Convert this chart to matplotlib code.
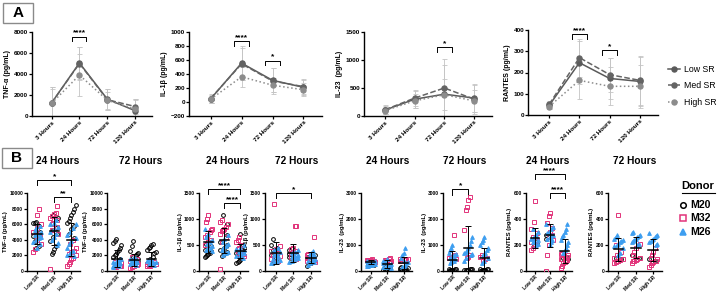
import numpy as np
import matplotlib
matplotlib.use("Agg")
import matplotlib.pyplot as plt
from matplotlib.lines import Line2D
from matplotlib.patches import Rectangle

plt.rcParams["font.family"] = ["Liberation Sans", "DejaVu Sans"]
plt.rcParams["font.weight"] = "bold"
plt.rcParams["axes.labelweight"] = "bold"

W, H = 720, 296

timepoints = ["3 Hours", "24 Hours", "72 Hours", "120 Hours"]
sr_groups = ["Low SR", "Med SR", "High SR"]
sr_labels = ["Low SR", "Med SR", "High SR"]
donors = ["M20", "M32", "M26"]

# ---- panel A: mean / sd per time point, rows = Low, Med, High SR
tnf_mean = [[1240, 5050, 1600, 500], [1240, 5000, 1550, 900], [1200, 3900, 1500, 650]]
tnf_sd = [[1500, 1500, 1000, 1100], [1500, 1600, 1000, 700], [1400, 2000, 800, 900]]
il1b_mean = [[45, 555, 310, 210], [50, 545, 300, 220], [40, 360, 240, 175]]
il1b_sd = [[60, 240, 170, 110], [60, 230, 180, 110], [50, 140, 100, 90]]
il23_mean = [[105, 300, 390, 320], [110, 320, 500, 300], [95, 270, 380, 270]]
il23_sd = [[70, 150, 520, 250], [80, 140, 520, 260], [60, 120, 280, 200]]
rantes_mean = [[45, 246, 172, 158], [50, 270, 190, 163], [40, 163, 135, 135]]
rantes_sd = [[15, 100, 95, 115], [15, 90, 80, 115], [12, 90, 90, 100]]

# ---- panel B: individual values, [Low, Med, High] per donor
tnf24_m20 = [[6300, 6200, 6100, 5800, 5000, 4800, 4500, 3800, 3200, 3000],
             [7200, 6800, 5500, 5200, 4800, 4400, 3800, 3200, 2800, 2500, 2200],
             [8400, 8000, 7600, 7200, 6800, 6400, 6100, 5800, 5400, 4800, 4200]]
tnf24_m32 = [[8000, 7200, 6000, 5500, 5000, 4700, 4400, 4000, 3500, 2800, 2400],
             [8300, 7500, 7300, 7000, 6800, 6500, 6200, 6000, 5600, 5200, 4800, 300],
             [4000, 3500, 3000, 2600, 2400, 2200, 2000, 1700, 1500, 1200, 900, 600]]
tnf24_m26 = [[5800, 5500, 5200, 5000, 4800, 4600, 4400, 4200, 4000, 3700, 3400, 3000],
             [6500, 6200, 6000, 5700, 5400, 5000, 4700, 4400, 4000, 3600, 3300],
             [6000, 5500, 5000, 4600, 4200, 3800, 3400, 3000, 2600, 2300, 2100, 1900]]

tnf72_m20 = [[4100, 3800, 3600, 3300, 3000, 2700, 2500, 2200, 2000, 1800, 1500],
             [3800, 3200, 2600, 2300, 2200, 2000, 1800, 1600, 1400, 1200],
             [3500, 3300, 3100, 2900, 2700, 2500, 2300, 1800, 1500]]
tnf72_m32 = [[1200, 1000, 900, 800, 700, 650, 600, 550, 500],
             [1800, 1500, 1300, 1100, 1000, 900, 800, 700, 600, 500, 400],
             [1200, 1000, 900, 850, 800, 750, 700, 650, 600]]
tnf72_m26 = [[1600, 1400, 1300, 1200, 1100, 1000, 900, 800, 700, 600, 500],
             [1800, 1600, 1500, 1400, 1300, 1200, 1100, 1000, 900, 800],
             [1500, 1400, 1300, 1200, 1100, 1000, 900, 800]]

il1b24_m20 = [[520, 480, 430, 400, 380, 350, 320, 300, 280, 260],
              [1080, 900, 700, 550, 500, 450, 400, 360, 320, 280],
              [720, 500, 400, 350, 300, 250, 220, 200, 180, 150]]
il1b24_m32 = [[1070, 1000, 950, 800, 780, 750, 700, 650, 600, 550, 500],
              [980, 950, 900, 850, 800, 780, 760, 720, 650, 550, 40],
              [650, 600, 550, 500, 450, 420, 380, 350, 320, 300, 280]]
il1b24_m26 = [[800, 720, 650, 600, 560, 520, 480, 450, 430, 400, 380],
              [700, 620, 560, 520, 480, 440, 400, 370, 340, 300],
              [500, 450, 420, 400, 380, 360, 340, 320, 300, 280, 250]]

il1b72_m20 = [[620, 500, 450, 400, 350, 300, 250, 200, 160],
              [450, 400, 350, 320, 290, 260, 230, 200],
              [300, 260, 220, 200, 180, 150, 100]]
il1b72_m32 = [[1290, 480, 420, 380, 340, 300, 280, 250, 230, 200],
              [870, 860, 450, 420, 380, 340, 300, 260, 230],
              [660, 320, 300, 280, 250, 220, 200, 180]]
il1b72_m26 = [[450, 400, 360, 330, 300, 280, 260, 240, 220, 200, 180, 150],
              [400, 370, 340, 310, 290, 270, 250, 230, 200, 170],
              [380, 340, 320, 300, 280, 260, 240, 220, 200, 180, 150, 120]]

il23_24_m20 = [[380, 350, 300, 250, 220],
               [200, 150, 100, 80, 60, 50, 40, 30],
               [150, 120, 100, 80, 60, 50, 40, 30, 20]]
il23_24_m32 = [[450, 440, 430, 420, 410, 400, 390, 380, 370, 360],
               [500, 460, 440, 420, 400, 390, 380, 370, 350],
               [480, 450, 430, 410, 400, 390, 380]]
il23_24_m26 = [[400, 370, 340, 320, 300, 280, 260, 240, 220, 200, 180],
               [450, 400, 350, 300, 260, 230, 200, 170, 140, 110],
               [880, 700, 600, 500, 400, 350, 300, 250, 200, 150]]

il23_72_m20 = [[80, 70, 60, 50, 40, 30, 20, 10],
               [80, 70, 60, 50, 40, 30, 20],
               [80, 70, 60, 50, 40, 30, 20, 10]]
il23_72_m32 = [[1380, 600, 550, 500, 450, 400],
               [2830, 2750, 2450, 2350, 1570, 600, 550, 500],
               [600, 550, 500, 450, 400]]
il23_72_m26 = [[1000, 900, 800, 700, 650, 600, 550, 500, 450, 400, 350, 300],
               [1300, 1150, 1000, 900, 800, 750, 700, 650, 600, 500, 400],
               [1300, 1200, 1100, 1000, 900, 800, 700, 650, 600, 500, 400, 300]]

rantes24_m20 = [[230, 210, 190], [280, 250], [110, 100, 90]]
rantes24_m32 = [[540, 380, 320, 290, 260, 240, 230, 220, 200, 180, 160],
                [450, 420, 370, 330, 300, 280, 260, 240, 200, 120, 0],
                [140, 130, 120, 110, 100, 95, 90, 85, 80, 70, 60, 40, 20]]
rantes24_m26 = [[320, 300, 280, 270, 260, 250, 240, 230, 220, 210, 200],
                [360, 340, 320, 300, 290, 280, 270, 260, 250, 240, 220, 200],
                [360, 320, 300, 280, 260, 240, 220, 200, 180, 160, 140]]

rantes72_m20 = [[100, 90], [120, 100], [90, 80]]
rantes72_m32 = [[430, 200, 150, 120, 100, 90, 85, 80, 75, 70, 60],
                [210, 180, 150, 120, 100, 90, 85, 80, 75, 60],
                [180, 150, 120, 100, 90, 80, 70, 60, 50, 30]]
rantes72_m26 = [[280, 260, 250, 240, 230, 220, 210, 200, 190, 180, 140, 120],
                [300, 290, 280, 270, 260, 250, 240, 230, 220, 210, 200],
                [290, 280, 270, 260, 250, 240, 230, 220, 210, 200]]

PINK = "#e2337a"
BLUE = "#3d9ef0"

fig = plt.figure(figsize=(W / 100, H / 100), dpi=100)


def px_axes(x0, y0, x1, y1):
    return fig.add_axes([x0 / W, 1 - y1 / H, (x1 - x0) / W, (y1 - y0) / H])


def style(ax, fs=4.6):
    for s in ["top", "right"]:
        ax.spines[s].set_visible(False)
    for s in ["left", "bottom"]:
        ax.spines[s].set_linewidth(1.0)
    ax.tick_params(labelsize=fs, width=0.9, length=2.0, pad=0.8)


def bracket(ax, x1, x2, y, h, label, fs=6):
    ax.plot([x1, x1, x2, x2], [y - h, y, y, y - h], color="black", lw=0.7,
            clip_on=False)
    ax.text((x1 + x2) / 2, y, label, ha="center", va="bottom", fontsize=fs,
            fontweight="bold", clip_on=False)


def box_label(x0, y0, x1, y1, s):
    fig.add_artist(Rectangle((x0 / W, 1 - y1 / H), (x1 - x0) / W, (y1 - y0) / H,
                             transform=fig.transFigure, fill=False,
                             edgecolor="#8a8a8a", lw=1.0))
    fig.text((x0 + x1) / 2 / W, 1 - (y0 + y1) / 2 / H, s, ha="center",
             va="center", fontsize=11, fontweight="bold")


# ---------------- panel A ----------------
line_styles = [("-", "#5a5a5a"), ("--", "#646464"), (":", "#8c8c8c")]

a_specs = [
    ((32, 32, 152, 116), tnf_mean, tnf_sd, (0, 8000), np.arange(0, 8001, 2000),
     "TNF-α (pg/mL)", [(1, 7550, "****")], 450),
    ((189, 32, 322, 116), il1b_mean, il1b_sd, (-200, 1000),
     np.arange(-200, 1001, 200), "IL-1β (pg/mL)",
     [(1, 870, "****"), (2, 590, "*")], 65),
    ((364, 32, 492, 116), il23_mean, il23_sd, (0, 1500),
     np.arange(0, 1501, 500), "IL-23  (pg/mL)", [(2, 1230, "*")], 85),
    ((528, 30, 658, 115), rantes_mean, rantes_sd, (0, 400),
     np.arange(0, 401, 100), "RANTES (pg/mL)",
     [(1, 380, "****"), (2, 305, "*")], 23),
]

x = np.arange(len(timepoints))
for pos, means, sds, ylim, yt, ylab, brs, bh in a_specs:
    ax = px_axes(*pos)
    style(ax)
    handles = []
    for (ls, col), m, sd, lab in zip(line_styles, means, sds, sr_groups):
        ax.errorbar(x, m, yerr=sd, fmt="none", ecolor="#c4c4c4",
                    elinewidth=0.6, capsize=1.8, capthick=0.6, zorder=1)
        h, = ax.plot(x, m, ls=ls, color=col, lw=1.1, marker="o",
                     markersize=3.6, zorder=3, label=lab)
        handles.append(h)
    ax.set_xlim(-0.7, 3.6)
    ax.set_ylim(*ylim)
    ax.set_yticks(yt)
    ax.set_xticks(x)
    ax.set_xticklabels(timepoints, rotation=45, ha="right",
                       rotation_mode="anchor")
    ax.set_ylabel(ylab, fontsize=5, labelpad=2)
    for xi, yb, lab in brs:
        bracket(ax, xi - 0.25, xi + 0.25, yb, bh, lab)

fig.legend(handles, sr_groups, loc="center left",
           bbox_to_anchor=(668 / W, 1 - 86 / H), frameon=False,
           prop={"size": 6.3, "weight": "normal"}, borderpad=0,
           borderaxespad=0, handlelength=1.4, labelspacing=0.85,
           handletextpad=0.45)

box_label(3, 3, 33, 23, "A")
box_label(2, 148, 32, 168, "B")

# ---------------- panel B ----------------
b_specs = [
    ((27, 193, 80, 271), 58, "24 Hours", tnf24_m20, tnf24_m32, tnf24_m26,
     (0, 10000), np.arange(0, 10001, 2000), "TNF-α (pg/mL)",
     [(0, 2, 11700, "*"), (1, 2, 9500, "**")]),
    ((107, 193, 160, 271), 141, "72 Hours", tnf72_m20, tnf72_m32, tnf72_m26,
     (0, 10000), np.arange(0, 10001, 2000), "TNF-α (pg/mL)", []),
    ((199, 193, 248, 271), 228, "24 Hours", il1b24_m20, il1b24_m32, il1b24_m26,
     (0, 1500), np.arange(0, 1501, 500), "IL-1β (pg/mL)",
     [(0, 2, 1580, "****"), (1, 2, 1310, "****")]),
    ((265, 193, 320, 271), 297, "72 Hours", il1b72_m20, il1b72_m32, il1b72_m26,
     (0, 1500), np.arange(0, 1501, 500), "IL-1β (pg/mL)",
     [(0, 2, 1500, "*")]),
    ((361, 193, 412, 271), 388, "24 Hours", il23_24_m20, il23_24_m32,
     il23_24_m26, (0, 3000), np.arange(0, 3001, 1000), "IL-23  (pg/mL)", []),
    ((443, 193, 492, 271), 465, "72 Hours", il23_72_m20, il23_72_m32,
     il23_72_m26, (0, 3000), np.arange(0, 3001, 1000), "IL-23  (pg/mL)",
     [(0, 1, 3150, "*")]),
    ((526, 193, 572, 271), 548, "24 Hours", rantes24_m20, rantes24_m32,
     rantes24_m26, (0, 600), np.arange(0, 601, 200), "RANTES (pg/mL)",
     [(0, 2, 746, "****"), (1, 2, 600, "****")]),
    ((608, 193, 662, 271), 635, "72 Hours", rantes72_m20, rantes72_m32,
     rantes72_m26, (0, 600), np.arange(0, 601, 200), "RANTES (pg/mL)", []),
]

donor_styles = [
    dict(marker="o", mfc="none", mec="black", color="black"),
    dict(marker="s", mfc="none", mec=PINK, color=PINK),
    dict(marker="^", mfc=BLUE, mec=BLUE, color=BLUE),
]

for pos, tx, title, d20, d32, d26, ylim, yt, ylab, brs in b_specs:
    ax = px_axes(*pos)
    style(ax, fs=3.5)
    for g in range(3):
        per_donor = [d20[g], d32[g], d26[g]]
        allv = np.concatenate([np.asarray(v, float) for v in per_donor])
        order = np.argsort(allv)
        offs = np.empty(len(allv))
        offs[order] = ((np.arange(len(allv)) % 7) - 3) * 0.08
        start = 0
        for vals, st in zip(per_donor, donor_styles):
            n = len(vals)
            ax.plot(g + offs[start:start + n], vals, ls="none", markersize=2.7,
                    mew=0.7, zorder=3, **st)
            start += n
        mu, sd = allv.mean(), allv.std(ddof=1)
        ax.plot([g - 0.28, g + 0.28], [mu, mu], color="black", lw=1.1, zorder=4)
        ax.errorbar([g], [mu], yerr=[sd], fmt="none", ecolor="black",
                    elinewidth=0.7, capsize=2, capthick=0.7, zorder=4)
    ax.set_xlim(-0.6, 2.5)
    ax.set_ylim(*ylim)
    ax.set_yticks(yt)
    ax.set_xticks(range(3))
    ax.set_xticklabels(sr_labels, rotation=45, ha="right",
                       rotation_mode="anchor")
    ax.set_ylabel(ylab, fontsize=4.3, labelpad=1.0)
    span = ylim[1] - ylim[0]
    for g1, g2, yb, lab in brs:
        bracket(ax, g1, g2, yb, span * 0.07, lab, fs=6)
    fig.text(tx / W, 1 - 161 / H, title, ha="center", va="center",
             fontsize=7.3, fontweight="bold")

# donor legend
fig.text(698 / W, 1 - 186 / H, "Donor", ha="center", va="center", fontsize=8,
         fontweight="bold")
fig.add_artist(Line2D([682 / W, 715 / W], [1 - 193 / H, 1 - 193 / H],
                      transform=fig.transFigure, color="black", lw=0.8))
for yy, name, st in zip([205, 218, 232], donors, donor_styles):
    fig.add_artist(Line2D([683 / W], [1 - yy / H], transform=fig.transFigure,
                          ls="none", markersize=4, mew=1.1, **st))
    fig.text(690 / W, 1 - yy / H, name, ha="left", va="center", fontsize=7.6,
             fontweight="bold")

fig.savefig("out.png", dpi=100)
